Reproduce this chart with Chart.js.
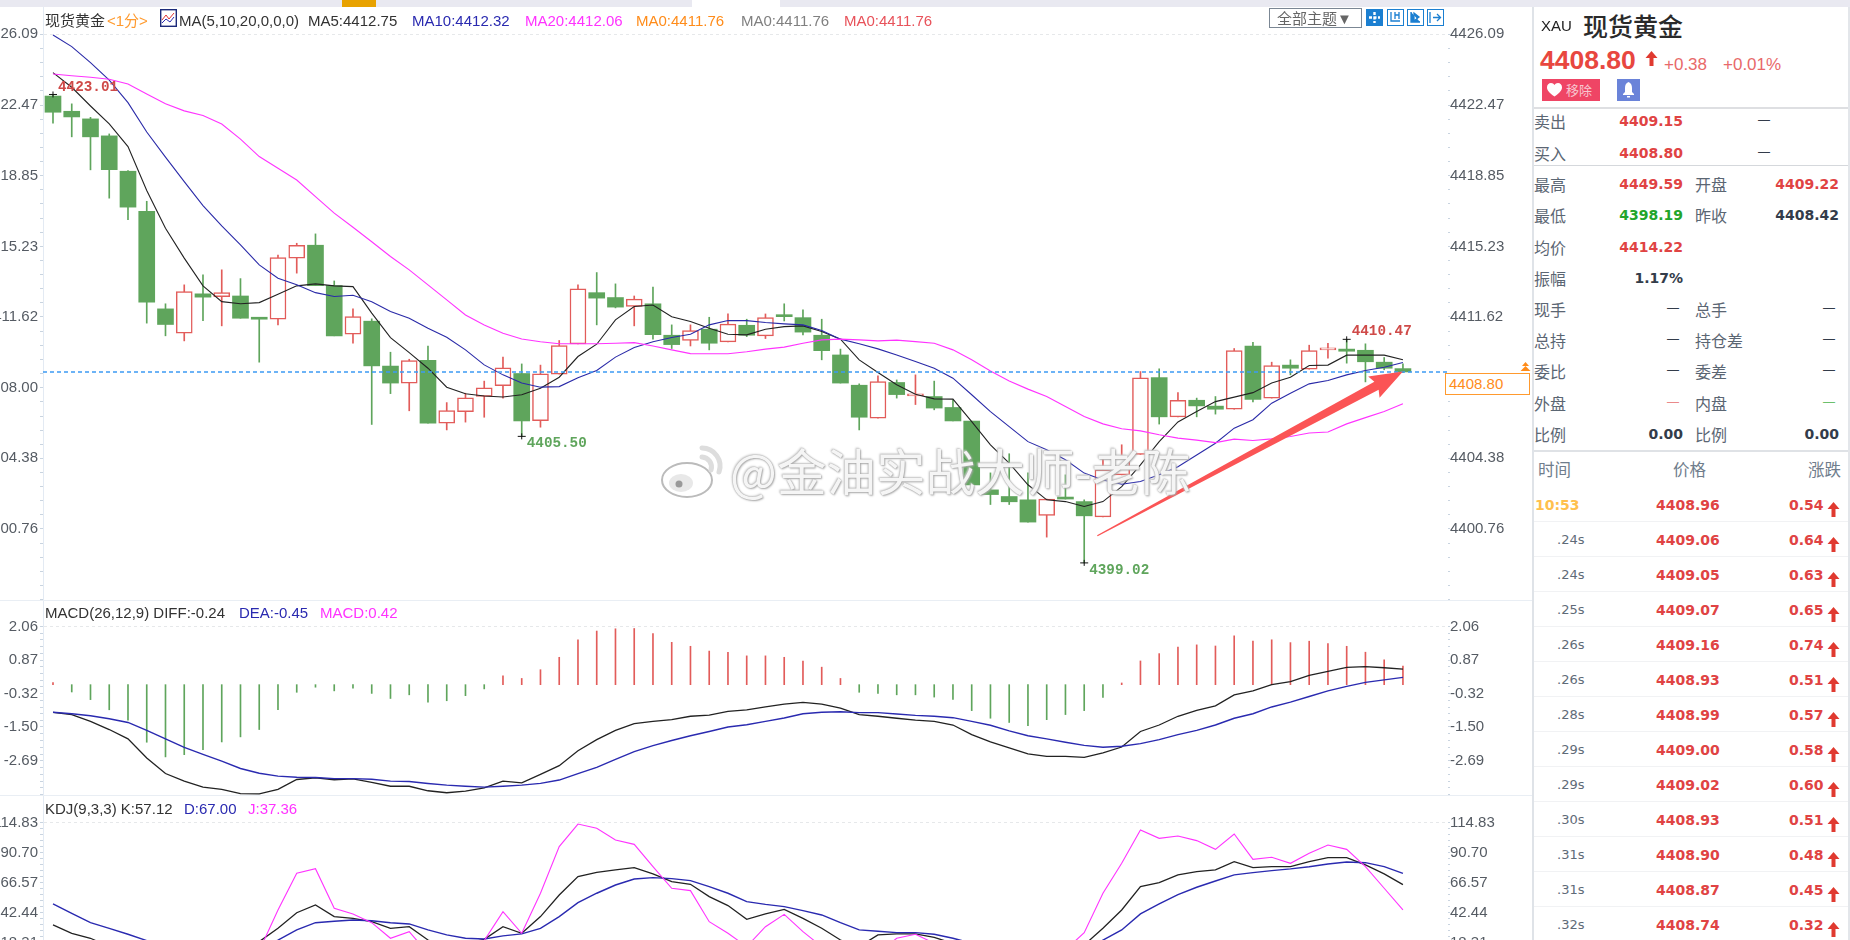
<!DOCTYPE html>
<html>
<head>
<meta charset="utf-8">
<title>现货黄金</title>
<script src="https://cdn.jsdelivr.net/npm/chart.js@4"></script>
<style>
html, body { margin: 0; padding: 0; background: #fff; width: 1850px; height: 940px; overflow: hidden; font-family: "Liberation Sans", "Noto Sans CJK SC", sans-serif; }
canvas { position: absolute; left: 0; }
.t { position: absolute; white-space: nowrap; line-height: 1; transform: translateY(-50%); }
.r { position: absolute; }
svg { position: absolute; }
#marca { position: absolute; left: 730px; top: 470px; transform: translateY(-50%); font: 49.6px/1 "Noto Sans CJK SC", sans-serif; white-space: nowrap;
  color: rgba(255,255,255,.9); text-shadow: 0 0 1px #999, 1px 1px 2px #aaa, -1px -1px 2px #ccc; z-index: 5; }
</style>
</head>
<body>
<canvas id="c_precio" width="1533" height="593" style="top:7px"></canvas>
<canvas id="c_macd" width="1533" height="195" style="top:600px"></canvas>
<canvas id="c_kdj" width="1533" height="155" style="top:795px"></canvas>
<div id="marca">@金油实战大师-老陈</div>
<script>
// velas
const aperturas = [4422.93,4422.15,4421.76,4420.89,4419.08,4417.03,4412.03,4410.78,4412.80,4412.66,4412.69,4411.55,4411.50,4414.63,4415.29,4413.22,4410.73,4411.40,4409.10,4408.23,4409.40,4406.18,4406.76,4407.54,4408.10,4408.72,4406.31,4408.69,4410.24,4412.86,4412.61,4412.15,4412.29,4410.68,4410.41,4410.99,4410.34,4411.19,4410.65,4411.71,4411.58,4410.68,4409.67,4408.12,4406.43,4408.26,4407.57,4407.54,4406.98,4406.28,4402.76,4402.42,4402.25,4401.45,4402.37,4402.16,4401.38,4403.53,4404.58,4408.51,4406.50,4407.35,4407.05,4406.89,4410.12,4407.46,4409.15,4408.94,4409.93,4409.97,4409.91,4409.30,4408.97]
const cierres = [4422.10,4421.86,4420.84,4419.16,4417.24,4412.37,4411.23,4412.91,4412.63,4412.86,4411.55,4411.50,4414.66,4415.29,4413.22,4410.65,4411.63,4409.11,4408.23,4409.38,4406.18,4406.82,4407.47,4407.98,4409.01,4406.29,4408.70,4410.15,4413.05,4412.58,4412.12,4412.53,4410.71,4410.20,4410.92,4410.27,4411.25,4410.68,4411.58,4411.63,4410.84,4409.89,4408.23,4406.48,4408.31,4407.64,4407.68,4406.95,4406.29,4403.02,4402.52,4402.15,4401.11,4402.29,4402.29,4401.43,4403.79,4404.40,4408.50,4406.50,4407.35,4407.06,4406.89,4409.89,4407.39,4409.13,4408.99,4409.89,4409.96,4409.86,4409.32,4408.99,4408.80]
const maximos = [4423.01,4422.53,4421.84,4420.99,4419.11,4417.54,4412.29,4413.26,4413.77,4414.03,4413.58,4411.57,4414.78,4415.39,4415.87,4413.46,4412.03,4411.52,4409.81,4409.45,4410.12,4407.23,4407.71,4408.33,4409.56,4409.21,4409.15,4410.41,4413.26,4413.89,4413.31,4412.69,4413.14,4411.21,4411.21,4411.60,4411.77,4411.50,4411.77,4412.29,4411.98,4411.50,4409.97,4408.19,4408.60,4408.39,4408.65,4408.33,4407.37,4406.28,4403.63,4404.61,4403.63,4402.29,4403.53,4402.25,4404.30,4405.07,4408.82,4408.96,4407.74,4407.46,4407.54,4410.00,4410.32,4409.30,4409.42,4410.17,4410.27,4410.47,4410.24,4409.54,4409.21]
const minimos = [4421.54,4420.84,4419.15,4417.70,4416.60,4411.30,4410.65,4410.39,4411.43,4411.16,4411.55,4409.30,4411.21,4413.86,4413.22,4410.65,4410.27,4406.11,4407.69,4406.81,4406.18,4405.83,4406.23,4406.48,4407.46,4405.50,4405.97,4408.69,4410.24,4411.21,4412.08,4411.16,4410.48,4410.00,4410.13,4409.93,4410.34,4410.61,4410.51,4411.41,4410.70,4409.42,4408.23,4405.83,4406.43,4407.46,4407.13,4406.86,4406.29,4402.76,4402.01,4402.01,4401.11,4400.34,4402.29,4399.02,4401.38,4403.53,4404.58,4406.13,4406.50,4406.50,4406.64,4406.89,4407.27,4407.46,4408.65,4408.94,4409.51,4409.25,4408.29,4408.91,4408.76]
const ma5 = [4424.13,4423.38,4422.42,4421.50,4420.34,4418.09,4416.16,4414.63,4413.21,4412.40,4412.29,4412.35,4412.78,4413.21,4413.31,4413.21,4413.17,4411.81,4410.56,4409.79,4408.99,4408.02,4407.68,4407.57,4407.52,4407.63,4407.97,4408.53,4409.59,4410.22,4411.47,4412.15,4412.23,4411.63,4411.38,4411.04,4410.73,4410.70,4410.99,4411.12,4411.16,4410.87,4410.48,4409.42,4408.77,4408.14,4407.66,4407.42,4407.41,4406.26,4405.07,4404.13,4403.02,4402.25,4402.16,4401.91,4402.16,4402.93,4404.04,4405.23,4406.24,4406.77,4407.28,4407.51,4407.74,4408.23,4408.53,4409.13,4409.15,4409.66,4409.66,4409.66,4409.42]
const ma10 = [4426.06,4425.46,4424.64,4423.75,4422.59,4421.09,4419.80,4418.55,4417.32,4416.28,4415.31,4414.28,4413.60,4413.26,4412.86,4412.66,4412.73,4412.40,4411.89,4411.55,4411.04,4410.58,4409.93,4409.16,4408.65,4408.23,4408.02,4408.05,4408.50,4408.87,4409.56,4410.05,4410.35,4410.56,4410.73,4411.21,4411.43,4411.43,4411.33,4411.26,4411.21,4410.92,4410.48,4410.24,4409.98,4409.67,4409.33,4408.99,4408.48,4407.63,4406.77,4406.00,4405.23,4404.81,4404.30,4403.62,4403.27,4403.05,4403.19,4403.53,4403.95,4404.55,4405.15,4405.92,4406.35,4407.20,4407.71,4408.19,4408.36,4408.65,4408.87,4409.04,4409.28]
const ma20 = [4424.06,4423.97,4423.89,4423.79,4423.55,4423.04,4422.53,4422.17,4421.93,4421.50,4420.72,4419.83,4419.23,4418.63,4417.78,4416.93,4416.21,4415.47,4414.71,4414.03,4413.26,4412.49,4411.72,4411.21,4410.78,4410.49,4410.35,4410.24,4410.24,4410.24,4410.27,4410.30,4410.13,4409.93,4409.74,4409.73,4409.73,4409.83,4409.97,4410.07,4410.27,4410.44,4410.48,4410.44,4410.39,4410.43,4410.35,4410.27,4409.93,4409.42,4408.85,4408.34,4407.92,4407.54,4407.03,4406.52,4406.14,4405.89,4405.78,4405.58,4405.41,4405.31,4405.18,4405.36,4405.29,4405.37,4405.49,4405.67,4405.72,4406.14,4406.46,4406.77,4407.17]

// MACD
const macd = [0.07,-0.26,-0.53,-0.89,-1.26,-2.04,-2.56,-2.48,-2.30,-2.03,-1.85,-1.59,-0.89,-0.27,-0.09,-0.22,-0.12,-0.31,-0.49,-0.36,-0.62,-0.57,-0.39,-0.15,0.31,0.22,0.53,0.97,1.59,1.90,1.98,1.99,1.81,1.50,1.36,1.19,1.15,1.02,1.02,0.97,0.84,0.62,0.22,-0.27,-0.31,-0.36,-0.36,-0.44,-0.52,-0.92,-1.19,-1.34,-1.45,-1.24,-1.06,-0.92,-0.45,0.06,0.84,1.10,1.33,1.41,1.37,1.73,1.54,1.59,1.49,1.54,1.46,1.36,1.15,0.88,0.66]
const diff = [-0.98,-1.06,-1.30,-1.59,-1.92,-2.60,-3.15,-3.42,-3.63,-3.71,-3.86,-3.87,-3.71,-3.36,-3.30,-3.37,-3.34,-3.46,-3.60,-3.60,-3.76,-3.83,-3.77,-3.66,-3.42,-3.48,-3.18,-2.87,-2.34,-1.95,-1.62,-1.38,-1.30,-1.24,-1.12,-1.08,-0.95,-0.89,-0.79,-0.69,-0.63,-0.69,-0.83,-1.06,-1.12,-1.19,-1.26,-1.30,-1.43,-1.77,-2.03,-2.24,-2.45,-2.54,-2.54,-2.58,-2.42,-2.21,-1.66,-1.43,-1.12,-0.91,-0.75,-0.36,-0.22,0.00,0.11,0.33,0.47,0.61,0.64,0.60,0.55]
const dea = [-0.98,-1.03,-1.10,-1.21,-1.34,-1.62,-1.92,-2.22,-2.47,-2.71,-2.97,-3.14,-3.24,-3.28,-3.29,-3.33,-3.33,-3.35,-3.42,-3.43,-3.50,-3.56,-3.60,-3.63,-3.60,-3.56,-3.50,-3.38,-3.15,-2.93,-2.65,-2.37,-2.16,-1.98,-1.81,-1.66,-1.50,-1.42,-1.30,-1.18,-1.03,-0.98,-0.96,-0.99,-0.99,-1.04,-1.09,-1.12,-1.17,-1.30,-1.44,-1.64,-1.81,-1.92,-2.04,-2.15,-2.22,-2.18,-2.09,-1.95,-1.77,-1.62,-1.43,-1.19,-1.03,-0.79,-0.62,-0.42,-0.22,-0.06,0.08,0.17,0.26]

// KDJ
const kdjK = [32.7,26.0,22.0,15.3,11.3,6.0,3.3,2.0,3.3,7.3,12.6,19.3,30.0,42.5,48.7,39.4,38.0,35.3,30.0,31.3,20.6,15.3,18.0,21.2,31.3,26.0,39.4,56.7,71.4,74.9,76.8,78.6,73.6,67.4,65.3,55.4,48.2,37.2,41.5,45.2,38.0,30.0,20.6,15.3,24.7,25.5,25.5,22.8,18.0,9.9,4.6,1.9,0.6,0.6,9.9,16.6,30.0,44.7,63.4,66.6,72.8,75.4,76.8,83.4,78.6,79.4,79.4,83.4,86.6,86.6,80.8,73.6,65.0]
const kdjD = [49.5,42.0,34.5,30.0,25.2,20.1,15.3,10.5,7.3,4.6,8.6,13.9,20.6,28.7,34.5,35.6,36.7,36.1,34.5,33.5,28.7,24.7,22.0,21.4,23.9,25.5,30.0,39.4,50.6,58.1,64.7,69.5,70.6,69.8,68.2,63.4,58.1,51.4,49.2,47.4,44.2,40.7,34.5,28.7,27.6,26.5,26.5,25.2,22.0,18.0,13.9,9.9,5.9,4.6,7.3,12.6,20.6,28.7,41.5,49.5,57.0,62.9,67.9,72.8,74.6,76.2,77.6,79.4,81.6,83.2,82.6,79.4,74.1]
const kdjJ = [8,6,5,4,3,3,3,3,4,5,8,12,44.7,74.1,77.8,46.0,41.5,34.5,22.0,27.3,9.9,4.6,9.9,20.1,43.4,26.0,58.1,95.5,113.6,110.2,100.8,97.3,79.4,62.1,60.2,35.3,26.0,15.3,31.3,41.2,27.3,15.3,4.6,-0.7,9.9,22.0,25.2,18.0,9.9,1.9,-0.7,-0.7,-0.7,-0.7,12.6,26.5,58.1,82.1,108.8,102.1,104.0,100.3,93.3,105.6,85.3,86.9,82.1,90.1,96.8,93.3,79.4,62.1,44.7]

// marcas de los ejes
const ticksPrecio = [4426.09,4422.47,4418.85,4415.23,4411.62,4408.00,4404.38,4400.76]
const ticksMacd = [2.06,0.87,-0.32,-1.50,-2.69]
const ticksKdj = [114.83,90.70,66.57,42.44,18.31]

// maximos y minimos rotulados, y la flecha a mano
const extremos = [[0,4423.01,1],[25,4405.50,-1],[55,4399.02,-1],[69,4410.47,1]]
const flechaDesde = [55.7,4400.41]
const flechaHasta = [72,4408.82]

const ultimo = cierres[cierres.length - 1]
const ROJO = "#e25c5a"
const VERDE = "#5fa55c"
const xMin = -0.533
const xMax = 74.35

function puntos(arr) {
    return arr.map((v, i) => ({ x: i, y: v }))
}

function linea(arr, color, grosor) {
    return { type: "line", data: puntos(arr), borderColor: color, borderWidth: grosor || 1.1, pointRadius: 0, tension: 0, order: 1, yAxisID: "y" }
}

function marcasEje(mayores, min) {
    const paso = (mayores[0] - mayores[1]) / 5
    let lista = []
    for (let k = 0; mayores[0] - k * paso >= min; k++) {
        let mayor = k % 5 == 0 && k / 5 < mayores.length
        lista.push({ value: mayor ? mayores[k / 5] : mayores[0] - k * paso, etiqueta: mayor ? mayores[k / 5].toFixed(2) : "" })
    }
    return lista
}

function ejeY(posicion, ancho, mayores, min, max) {
    return {
        position: posicion, min: min, max: max,
        afterFit(s) {
            s.width = ancho
            // sin esto el rotulo de arriba encoge el area del grafico
            s.paddingTop = 0
            s.paddingBottom = 0
        },
        afterBuildTicks(s) { s.ticks = marcasEje(mayores, min) },
        border: { color: posicion == "left" ? "#e3eaf3" : "rgba(0,0,0,0)", dash: [3, 3] },
        grid: {
            drawOnChartArea: posicion == "left",
            color: c => c.index === 0 ? "#e6e8ea" : "rgba(0,0,0,0)",
            tickColor: "#c9d4e0", tickLength: 3, lineWidth: 1
        },
        ticks: {
            autoSkip: false, maxRotation: 0, padding: posicion == "left" ? 2 : 0, color: "#555b63",
            font: { family: "Liberation Sans", size: 15 },
            callback: (v, i, t) => t[i].etiqueta
        }
    }
}

function crear(id, datasets, mayores, min, max, plugins) {
    return new Chart(document.getElementById(id), {
        data: { datasets: datasets },
        plugins: plugins || [],
        options: {
            responsive: false, animation: false, events: [], devicePixelRatio: 1,
            layout: { padding: 0 },
            plugins: { legend: { display: false }, tooltip: { enabled: false } },
            scales: {
                x: { type: "linear", display: false, offset: false, min: xMin, max: xMax },
                y: ejeY("left", 43, mayores, min, max),
                y2: ejeY("right", 86, mayores, min, max)
            }
        }
    })
}

// rotulos de extremos y flecha roja, colocados con las escalas
const extras = {
    id: "extras",
    afterDatasetsDraw(chart) {
        const ctx = chart.ctx, sx = chart.scales.x, sy = chart.scales.y
        ctx.save()
        extremos.forEach(e => {
            const x = sx.getPixelForValue(e[0]), y = sy.getPixelForValue(e[1])
            ctx.strokeStyle = "#111"
            ctx.lineWidth = 1
            ctx.beginPath()
            ctx.moveTo(x - 4, y); ctx.lineTo(x + 4, y)
            ctx.moveTo(x, y - 3); ctx.lineTo(x, y + 3)
            ctx.stroke()
            ctx.font = "bold 14.3px 'Liberation Mono'"
            ctx.textBaseline = "middle"
            ctx.fillStyle = e[2] > 0 ? "#cf4a48" : VERDE
            ctx.fillText(e[1].toFixed(2), x + 5, y - e[2] * 7.5)
        })
        const x0 = sx.getPixelForValue(flechaDesde[0]), y0 = sy.getPixelForValue(flechaDesde[1])
        const x1 = sx.getPixelForValue(flechaHasta[0]), y1 = sy.getPixelForValue(flechaHasta[1])
        const largo = Math.hypot(x1 - x0, y1 - y0)
        const ux = (x1 - x0) / largo, uy = (y1 - y0) / largo
        const p = (a, b) => [x1 - ux * a - uy * b, y1 - uy * a + ux * b]
        const forma = [p(largo, 0.6), p(30, 4.5), p(33, 12), p(0, 0), p(33, -12), p(30, -4.5), p(largo, -0.6)]
        ctx.fillStyle = "#fb5455"
        ctx.beginPath()
        forma.forEach((q, i) => i ? ctx.lineTo(q[0], q[1]) : ctx.moveTo(q[0], q[1]))
        ctx.closePath()
        ctx.fill()
        ctx.restore()
    }
}

const subida = i => cierres[i] >= aperturas[i]

crear("c_precio", [
    { type: "bar", order: 3, grouped: false, barThickness: 1, data: puntos(maximos.map((h, i) => [minimos[i], h])),
      backgroundColor: c => subida(c.dataIndex) ? ROJO : VERDE },
    { type: "bar", order: 2, grouped: false, barThickness: 16, minBarLength: 2, borderSkipped: false, borderWidth: c => subida(c.dataIndex) ? 1.5 : 0,
      data: puntos(aperturas.map((a, i) => [a, cierres[i]])),
      backgroundColor: c => subida(c.dataIndex) ? "#fff" : VERDE, borderColor: ROJO },
    linea(ma20, "#ff33ff"), linea(ma10, "#2a2aa8"), linea(ma5, "#222"),
    { type: "line", order: 0, data: [{ x: xMin, y: ultimo }, { x: xMax, y: ultimo }], borderColor: "#3d9bf3", borderWidth: 1.5, borderDash: [4, 3], pointRadius: 0 }
], ticksPrecio, 4397.12, 4427.49, [extras])

crear("c_macd", [
    { type: "bar", order: 2, grouped: false, barThickness: 1, data: puntos(macd), backgroundColor: c => macd[c.dataIndex] >= 0 ? ROJO : VERDE },
    linea(dea, "#2a2ab0", 1.4), linea(diff, "#222", 1.3)
], ticksMacd, -3.91, 3.0)

crear("c_kdj", [
    linea(kdjJ, "#ff33ff"), linea(kdjD, "#2a2ab0", 1.4), linea(kdjK, "#222", 1.3)
], ticksKdj, 12.6, 136.87)

// ---- textos alrededor del grafico
const FUENTE_NUM = "bold 14px 'DejaVu Sans'"
const GRIS = "#5b6673"
const ROJO_T = "#e04343"
const OSCURO = "#333c4a"

function texto(s, x, y, css) {
    const d = document.createElement("div")
    d.className = "t"
    d.textContent = s
    d.style.cssText = `left:${x}px;top:${y}px;` + (css || "")
    document.body.appendChild(d)
    return d
}
function textoDer(s, xDer, y, css) {
    const d = texto(s, 0, y, css)
    d.style.left = "auto"
    d.style.right = (1850 - xDer) + "px"
    return d
}
function caja(x, y, w, h, css) {
    const d = document.createElement("div")
    d.className = "r"
    d.style.cssText = `left:${x}px;top:${y}px;width:${w}px;height:${h}px;` + (css || "")
    document.body.appendChild(d)
}
function icono(x, y, w, h, vista, interior) {
    document.body.insertAdjacentHTML("beforeend", `<svg style="left:${x}px;top:${y}px" width="${w}" height="${h}" viewBox="${vista}">${interior}</svg>`)
}
function flechita(x, y, color) {
    icono(x, y, 13, 15, "0 0 12 15", `<polygon fill="${color}" points="6,0 12,7 8,7 8,15 4,15 4,7 0,7"/>`)
}

// franja superior y separadores
caja(0, 0, 1850, 7, "background:#e9e9f1")
caja(342, 0, 34, 7, "background:#e8a200")
caja(692, 0, 88, 7, "background:#fff")
caja(0, 600, 1533, 1, "background:#e9eef4")
caja(0, 795, 1533, 1, "background:#e9eef4")
caja(1532, 7, 2, 933, "background:#dfe3e8")
caja(1848, 7, 2, 933, "background:#e3e6ea")

// cabeceras
const FT = "font-size:15px;"
texto("现货黄金", 45, 20, FT + "color:#333")
texto("<1分>", 107, 20, FT + "color:#ff9a2e")
icono(160, 9, 17, 18, "0 0 17 18", `<rect x=".7" y=".7" width="15.6" height="16.6" fill="#fff" stroke="#1c2a7a" stroke-width="1.4"/><polyline points="2,11 6,6 9,10 14,4" fill="none" stroke="#e03333"/><polyline points="2,14 6,10 10,13 14,8" fill="none" stroke="#2a2ab0"/>`)
texto("MA(5,10,20,0,0,0)", 179, 20, FT + "color:#333")
texto("MA5:4412.75", 308, 20, FT + "color:#333")
texto("MA10:4412.32", 412, 20, FT + "color:#2a2ab0")
texto("MA20:4412.06", 525, 20, FT + "color:#ff33ff")
texto("MA0:4411.76", 636, 20, FT + "color:#ff8c1a")
texto("MA0:4411.76", 741, 20, FT + "color:#808080")
texto("MA0:4411.76", 844, 20, FT + "color:#e8525a")
texto("MACD(26,12,9) DIFF:-0.24", 45, 612, FT + "color:#333")
texto("DEA:-0.45", 239, 612, FT + "color:#2a2ab0")
texto("MACD:0.42", 320, 612, FT + "color:#ff33ff")
texto("KDJ(9,3,3) K:57.12", 45, 808, FT + "color:#333")
texto("D:67.00", 184, 808, FT + "color:#2a2ab0")
texto("J:37.36", 248, 808, FT + "color:#ff33ff")

// barra de herramientas
caja(1269, 8, 91, 18, "border:1.5px solid #7b8794;background:#fff")
texto("全部主题▼", 1277, 18, "font-size:15px;color:#666")
caja(1366, 9, 17, 17, "background:#1b7fd1")
icono(1366, 9, 17, 17, "0 0 17 17", `<path d="M8.5 3v11M3 8.5h11" stroke="#fff" stroke-width="2.4" stroke-dasharray="3 1.5"/>`)
;[1387, 1407, 1427].forEach((x, i) => {
    caja(x, 9, 15, 15, "border:1px solid #1b7fd1;background:#fff")
    const d = ["M4 3v9h9M8 3v7M12 3v7M8 6h4", "M4 3v10h9M7 4l5 4-5 4z", "M3 3v11M6 8.5h7M10 5l3.5 3.5L10 12"][i]
    icono(x, 9, 17, 17, "0 0 17 17", `<path d="${d}" fill="${i == 1 ? '#1b7fd1' : 'none'}" stroke="#1b7fd1" stroke-width="1.3"/>`)
})

// precio actual sobre el eje
caja(1445, 373, 83, 20, "border:1.2px solid #ff9a2e;background:#fff")
texto("4408.80", 1449, 383, "font-size:15px;color:#ff8c1a")
icono(1520, 362, 11, 11, "0 0 11 11", `<path d="M5.5 0L9 4H2zM5.5 4L10.5 9H.5z" fill="#ff8c1a"/>`)

// marca de agua
icono(659, 443, 68, 56, "0 0 68 56", `<g fill="#fff" stroke="#bbb" stroke-width="2"><ellipse cx="28" cy="37" rx="25" ry="17"/></g><ellipse cx="22" cy="40" rx="12" ry="9" fill="#e8e8e8"/><circle cx="20" cy="41" r="3.5" fill="#999"/><path d="M43 5a18 18 0 0 1 17 24M43 14a10 10 0 0 1 9 13" fill="none" stroke="#ddd" stroke-width="5" stroke-linecap="round"/>`)
document.body.lastElementChild.style.zIndex = 5

// panel derecho
texto("XAU", 1541, 25, "font-size:15px;color:#222")
texto("现货黄金", 1583, 25, "font:500 25px 'Noto Sans CJK SC';color:#2a2a2a")
texto("4408.80", 1540, 60, "font:bold 26.5px 'Liberation Sans';color:#e8473f")
flechita(1645, 51, "#e03a30")
texto("+0.38", 1664, 64, "font-size:17px;color:#e8696a")
texto("+0.01%", 1723, 64, "font-size:17px;color:#e8696a")
caja(1542, 79, 58, 22, "background:#ef4565")
icono(1547, 83, 15, 14, "0 0 15 14", `<path d="M7.5 13.5C1 9 0 6.5 0 4.2 0 1.8 1.8 0 4 0c1.5 0 2.8.8 3.5 2C8.200.8 9.500 0 11 0c2.200 0 4 1.800 4 4.200 0 2.300-1 4.800-7.500 9.300z" fill="#fff"/>`)
texto("移除", 1566, 90, "font-size:13px;color:#f8c6d0")
caja(1617, 79, 23, 22, "background:#6a83d9")
icono(1622, 82, 13, 16, "0 0 13 16", `<path d="M6.500 0C4 1 3 3 3 6v4L1 12v1h11v-1l-2-2V6c0-3-1-5-3.500-6zM5 14h3v1.500H5z" fill="#fff"/>`)

caja(1534, 107, 314, 2, "background:#dedfe2")
caja(1534, 165, 314, 1, "background:#d5d8dc")
caja(1534, 450, 314, 2, "background:#dfe2e6")

const FE = "font-size:16px;font-family:'Noto Sans CJK SC';color:" + GRIS
const etiquetas1 = ["卖出","买入","最高","最低","均价","振幅","现手","总持","委比","外盘","比例"]
const filasY = [121,152.7,184,215,246.7,278,309,340,371,403,434]
const valores1 = ["4409.15","4408.80","4449.59","4398.19","4414.22","1.17%","—","—","—","—","0.00"]
const colores1 = [ROJO_T,ROJO_T,ROJO_T,"#22a52a",ROJO_T,OSCURO,OSCURO,OSCURO,OSCURO,"#ea8a8a",OSCURO]
const etiquetas2 = ["","","开盘","昨收","","","总手","持仓差","委差","内盘","比例"]
const valores2 = ["—","—","4409.22","4408.42","","","—","—","—","—","0.00"]
const colores2 = [OSCURO,OSCURO,ROJO_T,OSCURO,OSCURO,OSCURO,OSCURO,OSCURO,OSCURO,"#6cc06c",OSCURO]

function valorPanel(v, xDer, y, color) {
    if (v == "—") textoDer(v, xDer - 4, y - 1, `font:12px 'Liberation Sans';color:${color}`)
    else textoDer(v, xDer, y, `font:${FUENTE_NUM};color:${color}`)
}
filasY.forEach((y, i) => {
    texto(etiquetas1[i], 1534, y, FE)
    valorPanel(valores1[i], 1683, y, colores1[i])
    if (etiquetas2[i]) texto(etiquetas2[i], 1695, y, FE)
    if (valores2[i]) valorPanel(valores2[i], i < 2 ? 1774 : 1839, y, colores2[i])
})

// lista de operaciones
const horas = ["10:53",".24s",".24s",".25s",".26s",".26s",".28s",".29s",".29s",".30s",".31s",".31s",".32s"]
const precios = ["4408.96","4409.06","4409.05","4409.07","4409.16","4408.93","4408.99","4409.00","4409.02","4408.93","4408.90","4408.87","4408.74"]
const cambios = ["0.54","0.64","0.63","0.65","0.74","0.51","0.57","0.58","0.60","0.51","0.48","0.45","0.32"]

const FC = "font-size:16.5px;font-family:'Noto Sans CJK SC';color:#6f7d8c"
texto("时间", 1538, 469, FC)
texto("价格", 1673, 469, FC)
texto("涨跌", 1808, 469, FC)
precios.forEach((p, i) => {
    const y = 505 + 35 * i
    if (i == 0) texto(horas[i], 1535, y, "font:bold 14px 'DejaVu Sans';color:#ffc04d")
    else texto(horas[i], 1557, y - 1, "font:13px 'DejaVu Sans';color:#5f6b78")
    texto(p, 1656, y, `font:${FUENTE_NUM};color:${ROJO_T}`)
    texto(cambios[i], 1789, y, `font:${FUENTE_NUM};color:${ROJO_T}`)
    flechita(1827, y - 3, "#e03a30")
    caja(1534, y + 16, 314, 1, "background:#f1f2f4")
})
</script>
</body>
</html>
